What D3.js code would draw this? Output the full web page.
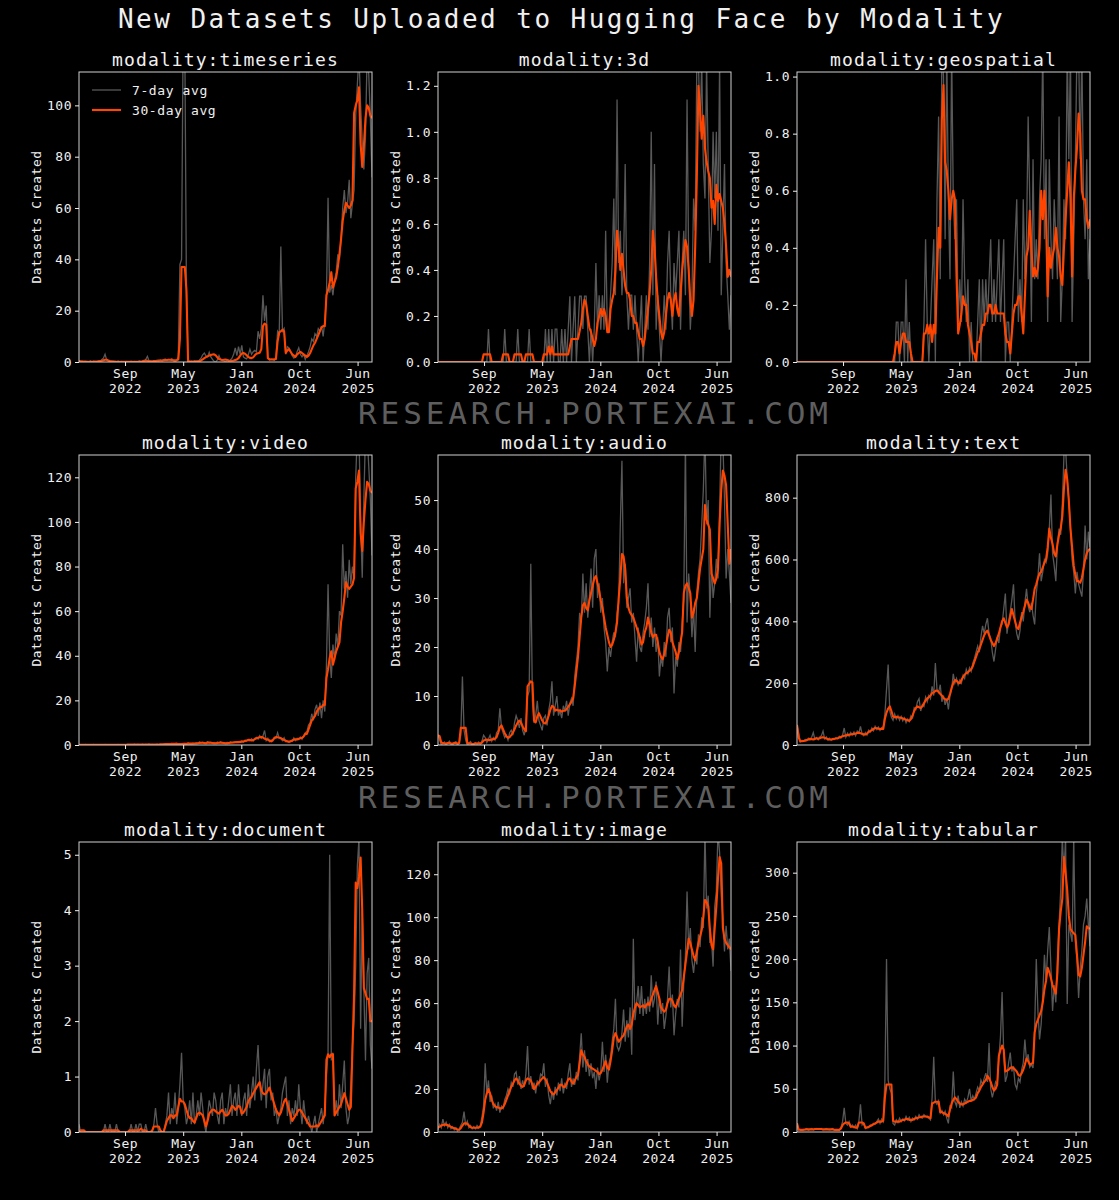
<!DOCTYPE html>
<html>
<head>
<meta charset="utf-8">
<script src="https://cdn.jsdelivr.net/npm/d3@7"></script>
<style>
  body { margin: 0; background: #000; }
</style>
</head>
<body>
<script>
// weekly samples from 2022-03-01
const modalities = ['timeseries', '3d', 'geospatial', 'video', 'audio', 'text', 'document', 'image', 'tabular'];
const startDate = '2022-03-01';
const tickDates = ['2022-09-15', '2023-05-23', '2024-01-28', '2024-10-04', '2025-06-11'];
const yMax = [113, 1.26, 1.016, 130, 59.2, 938, 5.23, 135, 335.5];
const yTicks = [
  [0, 20, 40, 60, 80, 100],
  [0, 0.2, 0.4, 0.6, 0.8, 1.0, 1.2],
  [0, 0.2, 0.4, 0.6, 0.8, 1.0],
  [0, 20, 40, 60, 80, 100, 120],
  [0, 10, 20, 30, 40, 50],
  [0, 200, 400, 600, 800],
  [0, 1, 2, 3, 4, 5],
  [0, 20, 40, 60, 80, 100, 120],
  [0, 50, 100, 150, 200, 250, 300]
];
const yFormats = ['d', '.1f', '.1f', 'd', 'd', 'd', 'd', 'd', 'd'];
const legendLabels = ['7-day avg', '30-day avg'];

const timeseries7 = [0.5,0,0.3,0,0,0.2,0,0.5,0,0.3, 0,0,0.4,0.2,1,1.5,3,0.8,0.5,0.2, 0,0.3,0,0,0.4,0,0.2,0,
  0,0.2,0,0,0.3,0,0.2,0,0,0.5, 0,0.3,0,1,2.2,0.5,0.3,0,0.2,0.4, 0.6,0.3,0.8,0.5,0.9,1.2,0.6,1,0.8,1.3, 0.5,0.2,0.5,
  2,38,40,130,125,28,1,0,
  0.3,0,0.5,0,0.2,0.8,1.5,2.8,3.5,2.4, 2,3.8,2,1,0.3,0,0.8,2.5,1,0.5, 0.4,0,0.6,0.2,0.8,1.5,3,5.5,2.5,6,
  3,6.5,2,1.5,1.2,2.8,5,3,4,4.5,4,12,
  9,13,26,16,22,2,0.8,1.2,1,0.6, 1.5,12,11,45,12,13,3,6,5.5,4, 2.5,1.5,2,4,5.5,3,2,3,1,2.5, 4,6,
  9,8,11,10,13,12,14,10,16,25, 64,27,30,26,32,35,42,40,48,60, 67,58,62,71,56,62,67,96,108,120, 100,86,75,88,120,112,95,72];
const timeseries30 = [0.3,0.3,0.2,0.2,0.2,0.1,0.1,0.1,0.1,0.2, 0.2,0.2,0.3,0.4,0.5,0.7,0.9,0.9,0.6,0.4,
  0.3,0.2,0.2,0.1,0.1,0.1,0.1,0.1,0.1,0.1, 0.1,0.1,0.1,0.1,0.1,0.1,0.1,0.1,0.2,0.3,
  0.5,0.6,0.5,0.3,0.3,0.3,0.4,0.4,0.5,0.6, 0.6,0.6,0.7,0.8,0.8,0.9,0.9,0.8,0.7,0.7, 0.8,
  1,9,37,37,37,28,0.3,0.2,
  0.2,0.2,0.2,0.3,0.3,0.4,0.6,1.0,1.5,1.9, 2.2,2.5,2.7,2.9,3.0,2.6,1.8,1.2,1.0,0.8, 0.9,1.0,0.8,0.6,0.5,0.5,0.6,0.8,1.0,1.5,
  2.5,3.3,3.5,3.2,2.6,2.0,1.6,1.5,1.8,2.6,3.2,3.4,3.6,5,
  14,15,14.5,1.5,1.0,1.0,1.0,1.1,1.2,8, 11.5,12,12.5,12,3.5,4.5,5,4,3,2.5, 2,3,3.5,4,3.5,3,2.5,2,2.5,3.5,
  5,6.5,7.5,9,10.5,12,13.5,14,14,26, 28,31,35,29,31,33,37,42,48,55, 59,62,61,60,61,63,97,100,102,107, 85,76,84,95,100,99,96,95];

const d3d7 = [0,0,0,0,0,0,0,0,0,0, 0,0,0,0,0,0,0,0,0,0, 0,0,0,0,0,0,0,0,
  0,0,0,0.143,0,0,
  0,0,0,0,0,0,0,0.143,0,0,0,
  0,0,0,0,0.143,0,0,0,
  0,0,0,0.143,0,0,0,0,
  0,0,0,0,0,0.143,0,0.143,0,0.143, 0,0.143,0.143,0,0,0.143,0,0.143,0,0.143,
  0.286,0,0.143,0.286,0,0.143,0.286,0.286,0.143,0.286, 0.286,0.143,0,0.143,0,0.143,0.43,0.143,0.29,0.14,
  0.29,0.14,0.57,0.14,0.14,0.29,0.43,0.71,0.29,1.14, 0.43,0.57,0.29,0.43,0.86,0.29,0.14,0.29,0.29,0.14,
  0.29,0.14,0,0.14,0.29,0,0.14,0.29,0.14,0.43, 1.0,0.29,0.86,0.14,0.29,0.14,0,0.14,0.29,0.14,
  0.43,0.57,0.29,0.14,0.43,0.29,0.43,0.57,0.14,0.43, 0.57,0.29,1.14,0.43,0.14,0.29,0.71,0.57,1.3,1.3,
  1.0,1.3,0.86,0.71,1.3,0.86,0.43,0.57,1.0,0.71, 1.0,0.57,1.3,0.29,0.57,0.86,0.43,0.29,0.14,0.29];
const d3d30 = [0,0,0,0,0,0,0,0,0,0, 0,0,0,0,0,0,0,0,0,0, 0,0,0,0,0,0,0,0,
  0.033,0.033,0.033,0.033,0.033,0,
  0,0,0,0,0,0,
  0.033,0.033,0.033,0.033,0,
  0,0,
  0.033,0.033,0.033,0.033,0.033,
  0,0,
  0.033,0.033,0.033,0.033,0.033,
  0,0,0,0,0,0,
  0.033,0.033,0.033,0.067,0.033,0.067,0.033,0.033,0.033,0.033, 0.033,0.033,0.033,0.033,0.033,0.033,0.067,
  0.1,0.1,0.1,0.1,0.1,0.133,0.17,0.23,0.27,0.25,
  0.2,0.15,0.13,0.1,0.07,0.1,0.17,0.2,0.23,0.2,
  0.23,0.2,0.13,0.13,0.23,0.27,0.3,0.4,0.57,0.5,
  0.4,0.47,0.4,0.33,0.3,0.3,0.27,0.2,0.2,0.17,
  0.17,0.13,0.1,0.1,0.07,0.1,0.17,0.23,0.3,0.4,
  0.57,0.5,0.37,0.27,0.2,0.13,0.1,0.13,0.2,0.27,
  0.3,0.27,0.2,0.27,0.3,0.23,0.2,0.3,0.4,0.47,
  0.53,0.5,0.4,0.27,0.2,0.27,0.5,0.8,1.2,1.1,
  0.97,1.07,0.93,0.87,0.83,0.8,0.67,0.7,0.6,0.77,
  0.7,0.73,0.7,0.67,0.6,0.5,0.37,0.4,0.37];

const geospatial7 = [0,0,0,0,0,0,0,0,0,0, 0,0,0,0,0,0,0,0,0,0, 0,0,0,0,0,0,0,0,0,0,
  0,0,0,0,0,0,0,0,0,0, 0,0,0,0,0,0,0,0,0,0, 0,0,0,0,0,0,0,0,0,0,
  0,0.14,0.14,0,0.14,0.14,0,0.29,0,0.14, 0,0,0,0,0,0,0,0,
  0.14,0.43,0.14,0,0.14,0.29,0.43,0,0.57,0.86, 0.29,1.1,1.0,0.43,1.1,0.57,0.29,1.1,0.57,0.43, 0.57,0.14,
  0.29,0.14,0.57,0.29,0.14,0.29,0,0.14,0,0, 0,0.14,0.29,0,0.29,0.14,0.29,0.14,0.29,0.43,
  0.14,0.29,0.14,0.29,0.43,0.14,0.29,0.43,0,0.14, 0.14,0,0.14,0.29,0.43,0.57,0.14,0.29,0.14,0.57,
  0.29,0.43,0.86,0.57,0.14,0.71,0.29,0.43,0.29,0.57, 0.71,1.1,0.43,0.71,0.14,0.71,0.43,0.29,0.57,0.43,
  0.29,0.86,0.14,0.29,0.57,0.43,1.1,0.71,1.1,0.14, 0.43,0.71,1.1,1.1,0.71,1.1,0.57,0.43,0.71,0.29,0.43];
const geospatial30 = [0,0,0,0,0,0,0,0,0,0, 0,0,0,0,0,0,0,0,0,0, 0,0,0,0,0,0,0,0,0,0,
  0,0,0,0,0,0,0,0,0,0, 0,0,0,0,0,0,0,0,0,0, 0,0,0,0,0,0,0,0,0,0,
  0.03,0.07,0.07,0.03,0.07,0.1,0.1,0.07,0.07,0.07, 0.03,0,0,0,0,0,0,0,
  0.1,0.1,0.13,0.1,0.13,0.07,0.13,0.1,0.3,0.47,
  0.4,0.85,0.97,0.7,0.67,0.6,0.5,0.57,0.6,0.57,
  0.3,0.1,0.13,0.17,0.23,0.2,0.2,0.13,0.1,0.07,
  0.03,0.03,0,0.07,0.07,0.1,0.13,0.13,0.17,0.17,
  0.2,0.2,0.17,0.17,0.2,0.17,0.17,0.17,0.17,0.17,
  0.1,0.07,0.07,0.03,0.1,0.17,0.2,0.2,0.23,0.23,
  0.17,0.1,0.23,0.37,0.4,0.53,0.4,0.3,0.33,0.3,
  0.33,0.4,0.6,0.5,0.6,0.5,0.23,0.4,0.33,0.37,
  0.4,0.47,0.4,0.37,0.3,0.27,0.4,0.5,0.6,0.7,
  0.57,0.3,0.57,0.67,0.75,0.87,0.8,0.6,0.57,0.57,
  0.5,0.47,0.5];

const video7 = [0.1,0,0.1,0,0.3,0,0.1,0,0,0.3, 0,0.1,0,0.2,0,0,0.3,0,0.1,0, 0.2,0,0.1,0,0.3,0,0.1,0,0.2,0,
  0.3,0.1,0.2,0,0.4,0.1,0.3,0.2,0,0.4, 0.1,0.3,0.2,0.5,0.1,0.3,0,0.2,0.4,0.1,
  0.4,0.2,0.5,0.3,0.6,0.2,0.4,0.7,0.3,0.6, 0.8,0.4,0.3,0.6,0.4,0.7,0.5,0.9,0.6,0.5,
  0.8,0.6,1.0,0.7,1.4,0.9,1.2,0.7,1.0,1.5, 0.9,1.2,0.7,1.1,0.8,1.3,0.9,1.4,0.8,1.0, 0.7,1.2,0.8,1.4,1.0,1.3,1.5,1.1,1.6,1.2,
  1.8,1.3,2.2,1.7,2.5,2.0,2.8,1.8,3.0,3.4, 2.6,4.2,3.0,4.0,6.5,2.0,3.0,1.5,2.2,1.8,
  3.5,3.0,5.5,3.2,2.8,2.0,3.3,1.5,1.8,1.2, 2.0,1.6,3.2,2.0,3.0,2.4,3.5,2.6,4.0,5.5,
  6,9,10,14,11,16,18,13,19,12, 20,15,35,72,40,30,45,38,50,44, 60,58,90,70,78,66,83,72,80,75,
  120,140,140,100,75,110,140,140,125,110, 85];
const video30 = [0.1,0.1,0.1,0.1,0.1,0.1,0.1,0.1,0.1,0.1, 0.1,0.1,0.1,0.1,0.1,0.1,0.1,0.1,0.1,0.1, 0.1,0.1,0.1,0.1,0.1,0.1,0.1,0.1,0.1,0.1,
  0.2,0.2,0.2,0.2,0.2,0.2,0.2,0.2,0.2,0.2, 0.2,0.2,0.2,0.2,0.2,0.2,0.2,0.2,0.2,0.2,
  0.3,0.3,0.3,0.4,0.4,0.4,0.4,0.5,0.5,0.5, 0.5,0.4,0.4,0.4,0.5,0.5,0.5,0.6,0.6,0.6,
  0.6,0.7,0.7,0.8,0.9,1.0,1.0,0.9,0.8,1.0, 1.1,1.0,0.9,0.8,0.8,0.9,1.0,1.1,1.0,0.9, 0.8,0.8,0.9,1.0,1.1,1.1,1.2,1.3,1.3,1.4,
  1.5,1.6,1.8,2.0,2.2,2.3,2.0,2.2,2.6,3.0, 3.3,3.5,3.6,3.4,2.8,2.6,2.4,2.0,1.6,2.2,
  3.0,3.6,3.5,3.3,3.1,2.6,2.2,1.9,1.6,1.5, 1.6,2.0,2.4,2.6,2.5,2.8,3.0,3.2,3.8,5.0,
  5,7,9,11,12,13,15,16,17,17, 18,18,30,34,39,42,36,39,42,44, 46,55,60,66,73,71,70,71,72,75,
  115,118,123,95,87,100,110,118,117,114, 113];

const audio7 = [2,1,0,0.3,0.6,0,0.4,0.8,0.2,0,0.5,0.7,0,0.4,
  2,14,3,1,
  0,0.4,0.7,0,0.3,0.5,0.2,0.6,0.2,0.8,2,
  1.5,0.5,1.2,2,0.8,1.5,1,2.5,3,7.5,3.5,2.5,
  1.5,2,1,2.5,3,2,4.5,6,5,3.5,5.5,3,2,4,10,
  11,37,9,4.5,6,9,5,4,3,5.5,6,4,7,9,13,
  6,8,10,6,7,5.5,8,7,9,6,8.5,9.5,8,14,17,
  20,27,25,35,27,33,26,30,36,28,38,40,30,33,27,
  30,24,21,15,20,18,21,23,22,27,29,45,58,33,37,
  28,30,32,25,27,22,17,24,20,19,23,25,28,33,22,
  26,20,24,19,22,14,18,16,21,18,26,28,21,24,10.5,
  18,16,21,19,25,30,62,25,35,30,22,28,19,31,35,
  38,45,52,64,45,50,26,37,30,33,38,34,48,64,62,50,34,40,35,29];
const audio30 = [2,1.8,0.5,0.4,0.3,0.3,0.4,0.4,0.3,0.3,0.4,0.4,0.3,0.4,
  3.5,3.5,3.5,3.5,
  0.4,0.3,0.3,0.2,0.2,0.3,0.3,0.3,0.3,0.5,0.9,
  1.0,1.1,1.0,1.0,1.1,1.2,1.3,1.6,2.5,3.6,4.0,3.2,
  2.4,1.8,1.5,1.6,2.0,2.5,3.2,4.0,4.6,5.0,4.5,3.8,3.2,2.8,12,
  12.5,13,12.8,5,4.6,5.8,6.5,5.8,5.0,4.5,4.4,5.0,6.0,7.2,8.0,
  7.8,7.0,7.2,7.0,7.1,6.8,7.0,7.0,7.3,7.8,8.3,8.8,9.5,12,15,
  18,22,26,28.5,29,28,27.5,29.5,31,32.5,34,34.5,33,31.5,29.5,
  28,26,24,22.5,21,20,20.5,21.5,23,25,30,34,39,38.5,36,
  30,28,27,26.5,26,25,24,23,22,20.5,21,23,24,26,24.5,
  23,22,22.5,22.5,21,19,18,17.5,18.5,20,22,23.5,23,21,20,
  19,17.5,19,21,23,31,32.5,33,32,31,26,27,29,30,33,
  36,38,40,49,46,45,44,35,34,33,34,36,45,52,56,55,53,45,37,40];

const text7 = [65,40,10,15,12,18,14,22,16,25,40,18,24,17,
  26,30,45,20,26,16,22,15,20,18,24,20,28,22,
  32,55,25,38,28,40,33,42,30,45,38,60,35,30,
  40,32,48,42,55,46,60,50,58,47,55,60,100,180,
  260,110,90,80,100,84,95,80,92,78,88,72,84,76,
  95,88,120,115,140,150,110,130,125,155,140,160,150,190,
  160,265,180,170,195,140,160,130,150,115,160,180,230,200,
  215,195,210,200,225,215,245,230,250,238,265,280,300,320,
  300,350,385,360,390,410,360,345,300,270,310,350,330,380,
  390,440,490,360,400,430,470,520,400,360,340,370,430,400,
  460,505,450,430,460,420,390,490,540,620,530,560,600,590,
  620,700,810,620,580,530,650,700,680,780,938,960,860,790,
  700,600,560,490,560,520,500,480,560,710,600,690,640];
const text30 = [65,25,12,12,13,14,16,18,20,19,18,20,22,20,
  22,24,25,23,21,19,18,18,19,20,21,22,24,26,
  28,30,31,32,33,34,35,36,37,39,40,38,36,35,
  34,37,42,45,48,52,55,54,53,52,53,52,85,105,
  118,125,110,92,90,91,90,89,88,86,84,82,80,78,
  84,95,110,120,125,122,120,125,135,145,150,155,160,168,
  170,175,176,172,165,160,152,148,145,150,165,185,200,210,
  208,202,200,210,220,228,232,235,240,245,255,270,285,300,
  310,325,340,355,365,370,355,340,330,320,330,345,360,380,
  400,410,395,380,390,415,440,420,400,380,375,395,415,430,
  450,470,460,445,440,470,505,520,540,555,560,575,590,600,
  640,700,670,650,620,610,650,680,700,740,830,890,860,790,
  700,640,580,550,530,530,525,540,570,600,620,630,635];

const document7 = [0.14,0,0,0,0,0,0,0,0,0,0,0,0,0,0,
  0,0.14,0,0,0.14,0,0,0,0.14,0,
  0,0,0,0,0,0,
  0,0.14,0,0,0.14,0,0.14,0.14,0,0,0.14,
  0,0,0,0,
  0.14,0.43,0.14,0,0,0,0,0.14,
  0.29,0.71,0.14,0.43,0.29,0.71,0.14,0.43,0.86,
  1.43,0.57,0.43,0.14,0.29,0.57,0.14,0.71,0.14,0.29,
  0.57,0.29,0.71,0.43,0.14,0,0.29,0.57,0.43,0.29,
  0.71,0.57,0.29,0.14,0.57,0.71,0.14,0.43,0.29,0.57,
  0.86,0.29,0.57,0.71,0.29,0.86,0.43,0.29,0.57,0.71,
  0.29,0.86,0.43,0.71,1.0,0.57,1.14,1.57,0.86,0.57,
  0.86,1.14,0.43,1.0,1.14,0.57,0.71,0.29,0.43,0.14,
  0.29,0.43,0.71,0.86,1.0,0.29,0.57,0.14,0.43,0.29,
  0.57,0.29,0.86,0.43,0.14,0.57,0.29,0.14,0.29,0.14,
  0,0.14,0.29,0,0.14,0.29,0.43,0.14,0.43,1.0,
  1.43,5.0,1.29,1.43,0.29,0.57,0.29,0.86,0.43,0.86,
  1.29,0.43,0.14,0.29,0.86,1.57,2.0,3.0,4.8,5.3,
  1.86,4.0,2.57,1.29,2.86,3.14,1.57,1.14];
const document30 = [0,0.03,0.03,0.03,0,0,0,0,0,0,0,0,0,0,0,
  0.03,0.03,0.03,0.03,0.03,0.03,0.03,0.03,0.03,0.03,
  0,0,0,0,0,0,
  0.03,0.03,0.03,0.03,0.03,0.03,0.03,0.06,0.03,0.03,0.03,
  0,0,0,0.03,
  0.1,0.1,0.1,0.1,0.03,
  0,0,0.1,
  0.2,0.25,0.3,0.3,0.25,0.3,0.3,0.45,0.6,
  0.55,0.55,0.5,0.4,0.3,0.25,0.25,0.2,0.17,0.25,
  0.33,0.35,0.33,0.3,0.2,0.1,0.2,0.33,0.37,0.4,
  0.4,0.37,0.35,0.33,0.37,0.4,0.35,0.3,0.3,0.33,
  0.4,0.47,0.45,0.4,0.43,0.47,0.45,0.33,0.35,0.4,
  0.45,0.55,0.6,0.63,0.7,0.75,0.8,0.85,0.9,0.75,
  0.7,0.68,0.7,0.75,0.8,0.7,0.6,0.5,0.4,0.35,
  0.3,0.35,0.45,0.55,0.6,0.5,0.4,0.3,0.2,0.25,
  0.3,0.35,0.4,0.4,0.35,0.3,0.25,0.2,0.15,0.1,
  0.1,0.1,0.1,0.12,0.1,0.15,0.2,0.25,0.3,1.3,
  1.4,1.35,1.4,1.4,0.3,0.35,0.4,0.45,0.5,0.6,
  0.7,0.6,0.5,0.4,0.45,1.5,2.5,4.5,4.4,4.6,
  4.95,4.0,2.6,2.5,2.4,2.4,2.0,2.0];

const image7 = [1,3.5,2,6,3,4.5,2,3.5,1.5,2.5,1,2,0.5,1.5,
  3,4.5,9.5,3,5,2,3,1.5,2.5,1.5,3,2,3,7,
  12,32,18,24,14,17,11,13,10,14,9,12,11,15,
  17,20,18,23,21,27,28,22,26,20,24,21,27,40,
  22,26,20,23,18,24,22,27,26,32,21,25,17,13,
  19,15,21,17,23,19,25,18,23,20,27,32,21,25,
  22,28,24,35,46,30,38,28,34,26,32,25,28,20,
  30,24,28,42,28,36,23,32,35,42,48,62,40,38,
  40,46,57,42,52,44,58,36,90,52,60,68,55,68,
  54,62,55,63,56,73,58,62,70,50,63,55,60,48,
  54,62,77,58,64,45,55,62,58,85,49,70,82,112,
  85,95,80,74,82,78,92,86,100,95,140,104,110,88,
  90,77,105,112,140,130,110,100,84,96,85,90,75];
const image30 = [2,2.5,3,3.3,3.5,3.4,3.2,2.8,2.4,2,1.8,1.5,1.2,1,
  1.8,3,4,4,3.8,3,2.2,2,2,2,2,2,2.5,4.5,
  9,15,18,20,18,15,13,12,11.5,11.5,11,11,11.5,13,
  15,17,19,21,22.5,24,25,24,22.5,21.5,21,22,24,25,
  24.5,24,22,20,21,22.5,23,24,25,25.5,24.5,23,21,19,
  18,17.5,18.5,19.5,20.5,22,22,21,21,22.5,24.5,25,23.5,22.5,
  24,25.5,26.5,32,38,36,35,33,31.5,30.5,30,29.5,29,28.5,
  28,27,27.5,29,31,33,30,29,33,38,44,46,44,42,
  43,44,45,47,49,50,48,50,55,58,60,59,58,58.5,
  59,58,59,60,59,62,64,66,68,65,62,58,57,56,
  57,60,62,62,61,59,58,60,62,64,66,72,78,84,
  90,88,85,82,80,84,88,91,94,100,108,107,105,95,
  87,85,95,105,118,128,125,95,90,88,87,86,85];

const tabular7 = [10,2,3,2,3,2.5,4,2,3,4,2.5,3,4,3,
  3,4,2.5,3,4,3,2.5,3,4,2,3,2.5,2,5,
  12,28,10,8,12,6,8,5,8,4,12,32,8,10,
  4,6,5,8,7,10,9,12,15,10,15,12,60,200,
  60,50,45,10,8,14,11,16,12,15,13,18,14,17,
  12,16,14,18,15,20,17,16,20,18,17,16,14,40,
  87,35,32,36,22,25,20,24,16,10,30,28,70,35,
  30,42,28,35,30,38,34,40,50,36,42,38,45,52,
  48,60,55,62,68,58,103,50,40,48,58,55,85,110,
  162,90,58,65,80,92,70,76,55,50,62,58,72,80,
  107,82,90,75,78,74,120,200,140,107,125,160,205,175,
  210,237,190,140,170,150,200,240,280,340,300,340,148,240,
  230,220,340,220,200,155,190,210,240,250,270,240,215];
const tabular30 = [10,3,2.5,2.5,2.5,3,3,3,3,3,3,3.5,3.5,3.5,
  3.5,3.5,3,3,3,3,3,3,3,2.5,2.5,2.5,2.5,4,
  8,10,11,11,10,6,6,6,5,5,11,11,11,10,
  5,5,6,7,8,9,10,11,12,12,12,13,40,55,
  55,55,55,13,12,12,12,12,13,14,14,15,15,14,
  14,14,15,16,16,17,17,18,18,18,18,17,16,33,
  34,35,35,35,23,23,22,21,20,18,26,33,37,40,
  38,35,33,32,32,33,34,35,36,36,37,38,40,45,
  48,52,55,58,60,65,62,58,52,48,50,55,88,95,
  100,95,70,71,72,74,75,74,72,70,66,65,68,72,
  78,85,82,78,79,80,115,125,130,135,140,150,165,175,
  190,185,178,170,165,160,185,235,255,270,318,300,280,250,
  235,232,230,228,205,182,180,190,205,220,238,236,235];

const avg7 = [timeseries7, d3d7, geospatial7, video7, audio7, text7, document7, image7, tabular7];
const avg30 = [timeseries30, d3d30, geospatial30, video30, audio30, text30, document30, image30, tabular30];

// ---- layout ----
const W = 1119, H = 1200;
const colLeft = [79, 438, 797], rowTop = [72, 455, 842];
const pw = 293, ph = 290;
const font = '"DejaVu Sans Mono", monospace';
const fg = '#f0f0f0';
const grey = '#585858', orange = '#ff4500';

const parse = d3.utcParse('%Y-%m-%d');
const t0 = parse(startDate);
const weekDates = (n) => d3.range(n).map((i) => d3.utcDay.offset(t0, 7 * i));
const tEnd = d3.utcDay.offset(t0, 7 * 180);
const ticks = tickDates.map(parse);

const svg = d3.select('body').append('svg')
  .attr('width', W)
  .attr('height', H);

svg.append('rect').attr('width', W).attr('height', H).attr('fill', '#000');

svg.append('text')
  .attr('x', 118).attr('y', 28)
  .attr('fill', fg)
  .style('font-family', font).style('font-size', '26px').style('letter-spacing', '2.45px')
  .text('New Datasets Uploaded to Hugging Face by Modality');

['RESEARCH.PORTEXAI.COM', 'RESEARCH.PORTEXAI.COM'].forEach((w, i) => {
  svg.append('text')
    .attr('x', 358).attr('y', [424, 808][i])
    .attr('fill', '#5e5e5e')
    .style('font-family', font).style('font-size', '31px').style('letter-spacing', '3.9px')
    .text(w);
});

const defs = svg.append('defs');

modalities.forEach((m, i) => {
  const col = i % 3, row = Math.floor(i / 3);
  const left = colLeft[col], top = rowTop[row];

  const x = d3.scaleUtc().domain([t0, tEnd]).range([left, left + pw]);
  const y = d3.scaleLinear().domain([0, yMax[i]]).range([top + ph, top]);

  defs.append('clipPath').attr('id', 'clip' + i)
    .append('rect').attr('x', left).attr('y', top).attr('width', pw).attr('height', ph);

  const g = svg.append('g');
  const plot = g.append('g').attr('clip-path', `url(#clip${i})`);

  const line = d3.line()
    .x((d) => x(d[0]))
    .y((d) => y(d[1]));

  const s7 = avg7[i], s30 = avg30[i];
  plot.append('path')
    .datum(d3.zip(weekDates(s7.length), s7))
    .attr('fill', 'none')
    .attr('stroke', grey)
    .attr('stroke-width', 1.3)
    .attr('d', line);
  plot.append('path')
    .datum(d3.zip(weekDates(s30.length), s30))
    .attr('fill', 'none')
    .attr('stroke', orange)
    .attr('stroke-width', 2.1)
    .attr('stroke-linejoin', 'round')
    .attr('d', line);

  // frame
  g.append('rect')
    .attr('x', left).attr('y', top).attr('width', pw).attr('height', ph)
    .attr('fill', 'none').attr('stroke', '#d0d0d0').attr('stroke-width', 1);

  const fmtMon = d3.utcFormat('%b'), fmtYear = d3.utcFormat('%Y');
  const xAxis = g.append('g')
    .attr('transform', `translate(0,${top + ph})`)
    .call(d3.axisBottom(x).tickValues(ticks).tickSize(4).tickPadding(3).tickFormat(''));
  xAxis.select('.domain').remove();
  xAxis.selectAll('.tick line').attr('stroke', fg);
  xAxis.selectAll('.tick text').each(function (d) {
    const t = d3.select(this).text(null)
      .attr('fill', fg)
      .style('font-family', font).style('font-size', '13px').style('letter-spacing', '0.5px');
    t.append('tspan').attr('x', 0).text(fmtMon(d));
    t.append('tspan').attr('x', 0).attr('dy', '1.15em').text(fmtYear(d));
  });

  const yAxis = g.append('g')
    .attr('transform', `translate(${left},0)`)
    .call(d3.axisLeft(y).tickValues(yTicks[i]).tickSize(4).tickPadding(3).tickFormat(d3.format(yFormats[i])));
  yAxis.select('.domain').remove();
  yAxis.selectAll('.tick line').attr('stroke', fg);
  yAxis.selectAll('.tick text')
    .attr('fill', fg)
    .style('font-family', font).style('font-size', '13px').style('letter-spacing', '0.5px');

  g.append('text')
    .attr('transform', `translate(${left - 43},${top + ph / 2}) rotate(-90)`)
    .attr('text-anchor', 'middle').attr('dy', '0.35em')
    .attr('fill', fg)
    .style('font-family', font).style('font-size', '13px').style('letter-spacing', '0.5px')
    .text('Datasets Created');

  g.append('text')
    .attr('x', left + pw / 2).attr('y', top - 6)
    .attr('text-anchor', 'middle')
    .attr('fill', fg)
    .style('font-family', font).style('font-size', '18px').style('letter-spacing', '1.1px')
    .text('modality:' + m);

  if (i === 0) {
    const lg = g.append('g');
    [grey, orange].forEach((c, k) => {
      const ly = top + 18 + k * 20;
      lg.append('line')
        .attr('x1', left + 13).attr('x2', left + 42).attr('y1', ly).attr('y2', ly)
        .attr('stroke', c).attr('stroke-width', k ? 2.1 : 1.3);
      lg.append('text')
        .attr('x', left + 53).attr('y', ly).attr('dy', '0.35em')
        .attr('fill', fg)
        .style('font-family', font).style('font-size', '13px').style('letter-spacing', '0.6px')
        .text(legendLabels[k]);
    });
  }
});
</script>
</body>
</html>
